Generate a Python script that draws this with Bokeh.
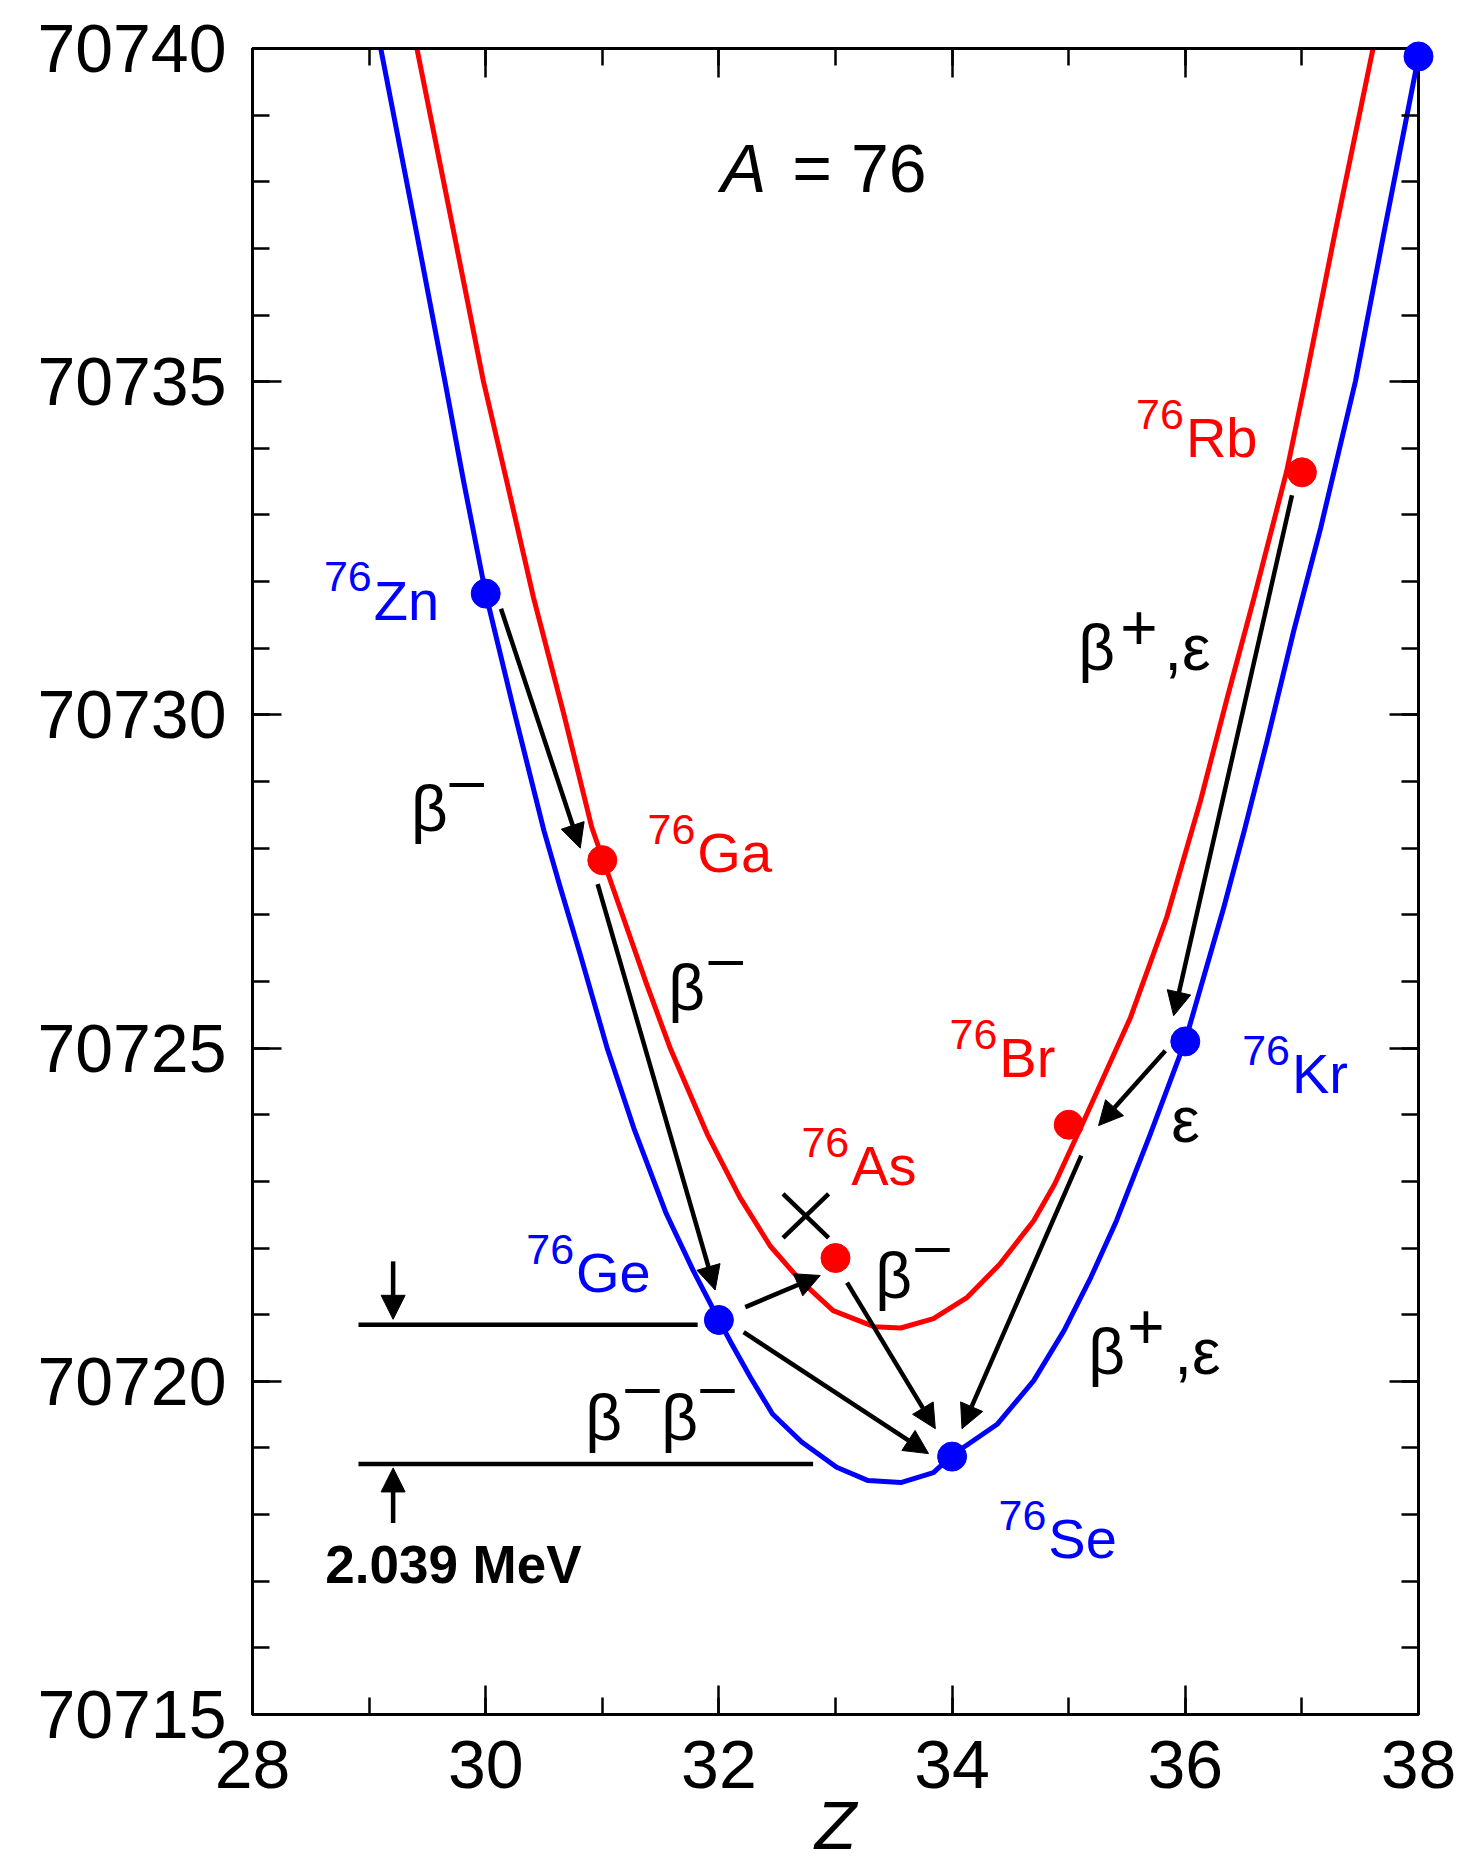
from bokeh.plotting import figure
from bokeh.models import (Range1d, LinearAxis, SingleIntervalTicker, Arrow, NormalHead,
                          ColumnDataSource, Label, BasicTickFormatter, CustomJSTickFormatter)
from bokeh.embed import file_html
from bokeh.resources import INLINE
from bokeh.core.properties import value

FONT = "Liberation Sans"
BLUE = "#0000ff"
RED = "#ff0000"

# ---------------- data ----------------
# even-even nuclides (blue) : Zn, Ge, Se, Kr, Sr
even_Z = [30, 32, 34, 36, 38]
even_mass = [70731.82, 70720.92, 70718.87, 70725.10, 70739.88]
# odd-odd nuclides (red) : Ga, As, Br, Rb
odd_Z = [31, 33, 35, 37]
odd_mass = [70727.82, 70721.85, 70723.85, 70733.64]

# mass parabola for even-even (blue)
blue_Z = [29.10, 29.41, 29.65, 29.81, 30.00, 30.25, 30.50, 30.64, 30.81, 31.04,
          31.27, 31.55, 31.78, 32.00, 32.11, 32.27, 32.46, 32.71, 33.01, 33.28,
          33.56, 33.84, 34.00, 34.39, 34.70, 34.96, 35.19, 35.41, 35.70, 36.00,
          36.33, 36.51, 36.70, 36.93, 37.16, 37.46, 37.70, 38.00]
blue_M = [70740.00, 70737.21, 70735.01, 70733.51, 70731.82, 70730.01, 70728.26, 70727.41, 70726.41, 70725.01,
          70723.80, 70722.51, 70721.66, 70720.92, 70720.56, 70720.06, 70719.51, 70719.09, 70718.71, 70718.51,
          70718.48, 70718.63, 70718.89, 70719.36, 70720.01, 70720.76, 70721.56, 70722.41, 70723.71, 70725.11,
          70727.11, 70728.29, 70729.60, 70731.26, 70732.80, 70735.01, 70737.20, 70739.88]

# mass parabola for odd-odd (red)
red_Z = [29.41, 29.73, 29.98, 30.18, 30.41, 30.67, 30.91, 31.24, 31.38, 31.58,
         31.90, 32.18, 32.44, 32.70, 32.98, 33.33, 33.56, 33.84, 34.13, 34.41,
         34.70, 34.88, 35.13, 35.53, 35.84, 36.13, 36.36, 36.59, 36.87, 37.03,
         37.28, 37.61]
red_M = [70740.00, 70737.21, 70735.01, 70733.51, 70731.76, 70730.01, 70728.31, 70726.66, 70725.96, 70725.01,
         70723.71, 70722.76, 70722.03, 70721.51, 70721.06, 70720.82, 70720.80, 70720.94, 70721.26, 70721.76,
         70722.41, 70722.96, 70723.91, 70725.46, 70726.96, 70728.71, 70730.26, 70731.76, 70733.66, 70735.01,
         70737.20, 70740.00]

# nuclide labels
label_sym = ["Zn", "Ga", "Ge", "As", "Br", "Kr", "Se", "Rb"]
label_mass_number = ["76"] * 8
label_color = [BLUE, RED, BLUE, RED, RED, BLUE, BLUE, RED]
label_Z = [29.040, 31.815, 30.775, 33.135, 34.405, 36.915, 34.825, 36.005]
label_M = [70731.418, 70727.634, 70721.331, 70722.937, 70724.552, 70724.312, 70717.337, 70733.856]

# decay arrows (from -> to)
arrow_Z0 = [30.131, 30.960, 32.226, 32.212, 33.099, 35.108, 35.829, 36.915]
arrow_M0 = [70731.593, 70727.460, 70721.113, 70720.738, 70721.480, 70723.387, 70724.961, 70733.297]
arrow_Z1 = [30.811, 31.968, 32.869, 33.798, 33.856, 34.085, 35.256, 35.900]
arrow_M1 = [70728.000, 70721.370, 70721.588, 70718.915, 70719.289, 70719.289, 70723.837, 70725.486]

# Q-value levels (76Ge and 76Se) and their marker arrows
q_Z0 = [28.909, 28.909]
q_Z1 = [31.818, 32.808]
q_M = [70720.847, 70718.759]
q_arrow_Z = [29.206, 29.206]
q_arrow_M0 = [70721.80, 70717.874]
q_arrow_M1 = [70720.93, 70718.70]

# forbidden-decay cross
cross_Z0 = [32.550, 32.550]
cross_M0 = [70722.813, 70722.153]
cross_Z1 = [32.941, 32.941]
cross_M1 = [70722.153, 70722.813]

# text annotations: (text, Z, M, size_px, style, baseline correction px)
texts = [
    ("β", 29.36, 70728.30, 64, "normal", 19),
    ("–", 29.69, 70728.75, 62, "normal", 19),
    ("β", 31.566, 70725.61, 64, "normal", 19),
    ("–", 31.911, 70726.08, 62, "normal", 19),
    ("β", 33.341, 70721.29, 64, "normal", 19),
    ("–", 33.684, 70721.77, 62, "normal", 19),
    ("β", 30.854, 70719.17, 64, "normal", 19),
    ("–", 31.196, 70719.65, 62, "normal", 19),
    ("β", 31.506, 70719.17, 64, "normal", 19),
    ("–", 31.840, 70719.65, 62, "normal", 19),
    ("β", 35.082, 70730.72, 64, "normal", 19),
    ("+", 35.443, 70731.03, 64, "normal", 19),
    (",ε", 35.820, 70730.72, 64, "normal", 19),
    ("β", 35.168, 70720.16, 64, "normal", 19),
    ("+", 35.502, 70720.54, 64, "normal", 19),
    (",ε", 35.906, 70720.16, 64, "normal", 19),
    ("ε", 35.880, 70723.63, 64, "normal", 19),
    ("A", 32.017, 70737.81, 68, "italic", 26),
    ("= 76", 32.630, 70737.81, 68, "normal", 26),
    ("2.039 MeV", 28.624, 70716.975, 53, "bold", 18),
]

PX_PER_MASS = 1666 / 25.0

# ---------------- figure ----------------
p = figure(frame_width=1166, frame_height=1666,
           x_range=Range1d(28, 38), y_range=Range1d(70715, 70740),
           output_backend="svg", toolbar_location=None,
           min_border_left=252, min_border_right=43, min_border_top=48, min_border_bottom=151)
p.grid.visible = False
p.outline_line_color = "black"
p.outline_line_width = 3
p.background_fill_color = "white"
p.border_fill_color = "white"

xt = lambda: SingleIntervalTicker(interval=2, num_minor_ticks=2)
yt = lambda: SingleIntervalTicker(interval=5, num_minor_ticks=5)
bottom_axis = p.below[0]
left_axis = p.left[0]
bottom_axis.ticker = xt()
left_axis.ticker = yt()
left_axis.formatter = BasicTickFormatter(use_scientific=False)
top_axis = LinearAxis(ticker=xt(), formatter=CustomJSTickFormatter(code="return ''"))
right_axis = LinearAxis(ticker=yt(), formatter=CustomJSTickFormatter(code="return ''"))
p.add_layout(top_axis, "above")
p.add_layout(right_axis, "right")

for ax in [bottom_axis, left_axis, top_axis, right_axis]:
    ax.axis_line_width = 3
    ax.axis_line_color = "black"
    ax.major_tick_in = 29
    ax.major_tick_out = 0
    ax.minor_tick_in = 17
    ax.minor_tick_out = 0
    ax.major_tick_line_width = 2.5
    ax.minor_tick_line_width = 2.5
    ax.major_tick_line_color = "black"
    ax.minor_tick_line_color = "black"
    ax.major_label_text_font = FONT
    ax.major_label_text_font_size = "68px"
    ax.major_label_text_color = "black"

bottom_axis.major_label_standoff = 26
left_axis.major_label_standoff = 26
for ax in [top_axis, right_axis]:
    ax.major_label_standoff = 0
    ax.major_label_text_font_size = "1px"

# x-axis title Z
bottom_axis.axis_label = "Z"
bottom_axis.axis_label_text_font = FONT
bottom_axis.axis_label_text_font_size = "68px"
bottom_axis.axis_label_text_font_style = "italic"
bottom_axis.axis_label_text_color = "black"
bottom_axis.axis_label_standoff = -4

# curves
p.line(blue_Z, blue_M, line_color=BLUE, line_width=5, line_join="round")
p.line(red_Z, red_M, line_color=RED, line_width=5, line_join="round")

# Q-value lines
p.segment(x0=q_Z0, y0=q_M, x1=q_Z1, y1=q_M, line_color="black", line_width=4.5)
# cross
p.segment(x0=cross_Z0, y0=cross_M0, x1=cross_Z1, y1=cross_M1, line_color="black", line_width=4.5)

# points
p.scatter(even_Z, even_mass, size=29, fill_color=BLUE, line_color=BLUE, level="overlay")
p.scatter(odd_Z, odd_mass, size=29, fill_color=RED, line_color=RED, level="overlay")

# arrows
arr_src = ColumnDataSource(dict(x0=arrow_Z0, y0=arrow_M0, x1=arrow_Z1, y1=arrow_M1))
p.add_layout(Arrow(end=NormalHead(size=24, fill_color="black", line_color="black", line_width=1),
                   x_start="x0", y_start="y0", x_end="x1", y_end="y1", source=arr_src,
                   line_color="black", line_width=4.5))
q_src = ColumnDataSource(dict(x0=q_arrow_Z, y0=q_arrow_M0, x1=q_arrow_Z, y1=q_arrow_M1))
p.add_layout(Arrow(end=NormalHead(size=24, fill_color="black", line_color="black", line_width=1),
                   x_start="x0", y_start="y0", x_end="x1", y_end="y1", source=q_src,
                   line_color="black", line_width=4.5))

# nuclide labels
lab_y = [m + 20 / PX_PER_MASS for m in label_M]
lab_src = ColumnDataSource(dict(x=label_Z, y=lab_y, sym=label_sym, sup=label_mass_number, c=label_color))
p.text(x="x", y="y", text="sym", text_color="c", source=lab_src, text_font=value(FONT),
       text_font_size="56px", text_align="left", text_baseline="alphabetic")
p.text(x="x", y="y", text="sup", text_color="c", source=lab_src, text_font=value(FONT),
       text_font_size="43px", text_align="right", text_baseline="alphabetic",
       x_offset=-2, y_offset=-23.5)

# other texts
for t, zx, my, fs, st, corr in texts:
    p.add_layout(Label(x=zx, y=my + corr / PX_PER_MASS, text=t, text_font=FONT,
                       text_font_size=f"{fs}px", text_font_style=st, text_color="black",
                       text_align="left", text_baseline="alphabetic"))

open("out.html", "w").write(file_html(p, INLINE))
